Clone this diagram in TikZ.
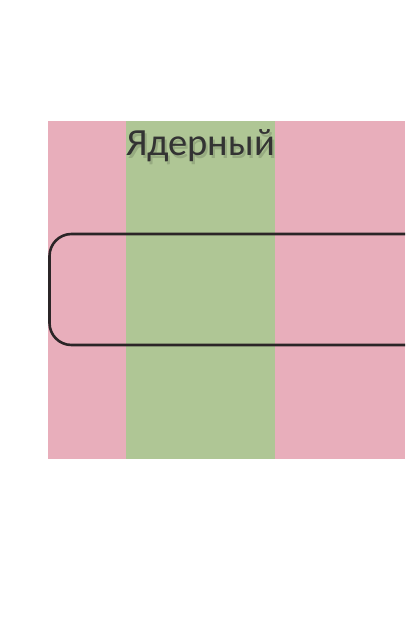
\documentclass[tikz,border=0pt]{standalone}
\usepackage{fontspec}
\setmainfont{Carlito}
\definecolor{pinkbg}{HTML}{E8AEBB}
\definecolor{greenbg}{HTML}{AFC695}
\definecolor{txtcol}{HTML}{333333}
\definecolor{linecol}{HTML}{2B2527}
\colorlet{shadowcol}{greenbg!86!black}
\newcommand{\shadowedtext}[1]{\rlap{\hspace{2pt}\raisebox{-2.5pt}{\color{shadowcol}#1}}#1}
\tikzset{
  title/.style={font=\fontsize{38.5}{38.5}\selectfont,text=txtcol,inner sep=0pt,anchor=base},
  roundbox/.style={draw=linecol,line width=2.6pt,rounded corners=22pt}
}
\begin{document}
\begin{tikzpicture}[x=1pt,y=-1pt]
\useasboundingbox (0,0) rectangle (405,628);
\clip (0,0) rectangle (405,628);
\fill[pinkbg] (48,121) rectangle (405,459);
\fill[greenbg] (126,121) rectangle (275,459);
\node[title] (title) at (200.5,156) {\shadowedtext{Ядерный}};
\draw[roundbox] (49.5,234) rectangle (440,345);
\end{tikzpicture}
\end{document}
